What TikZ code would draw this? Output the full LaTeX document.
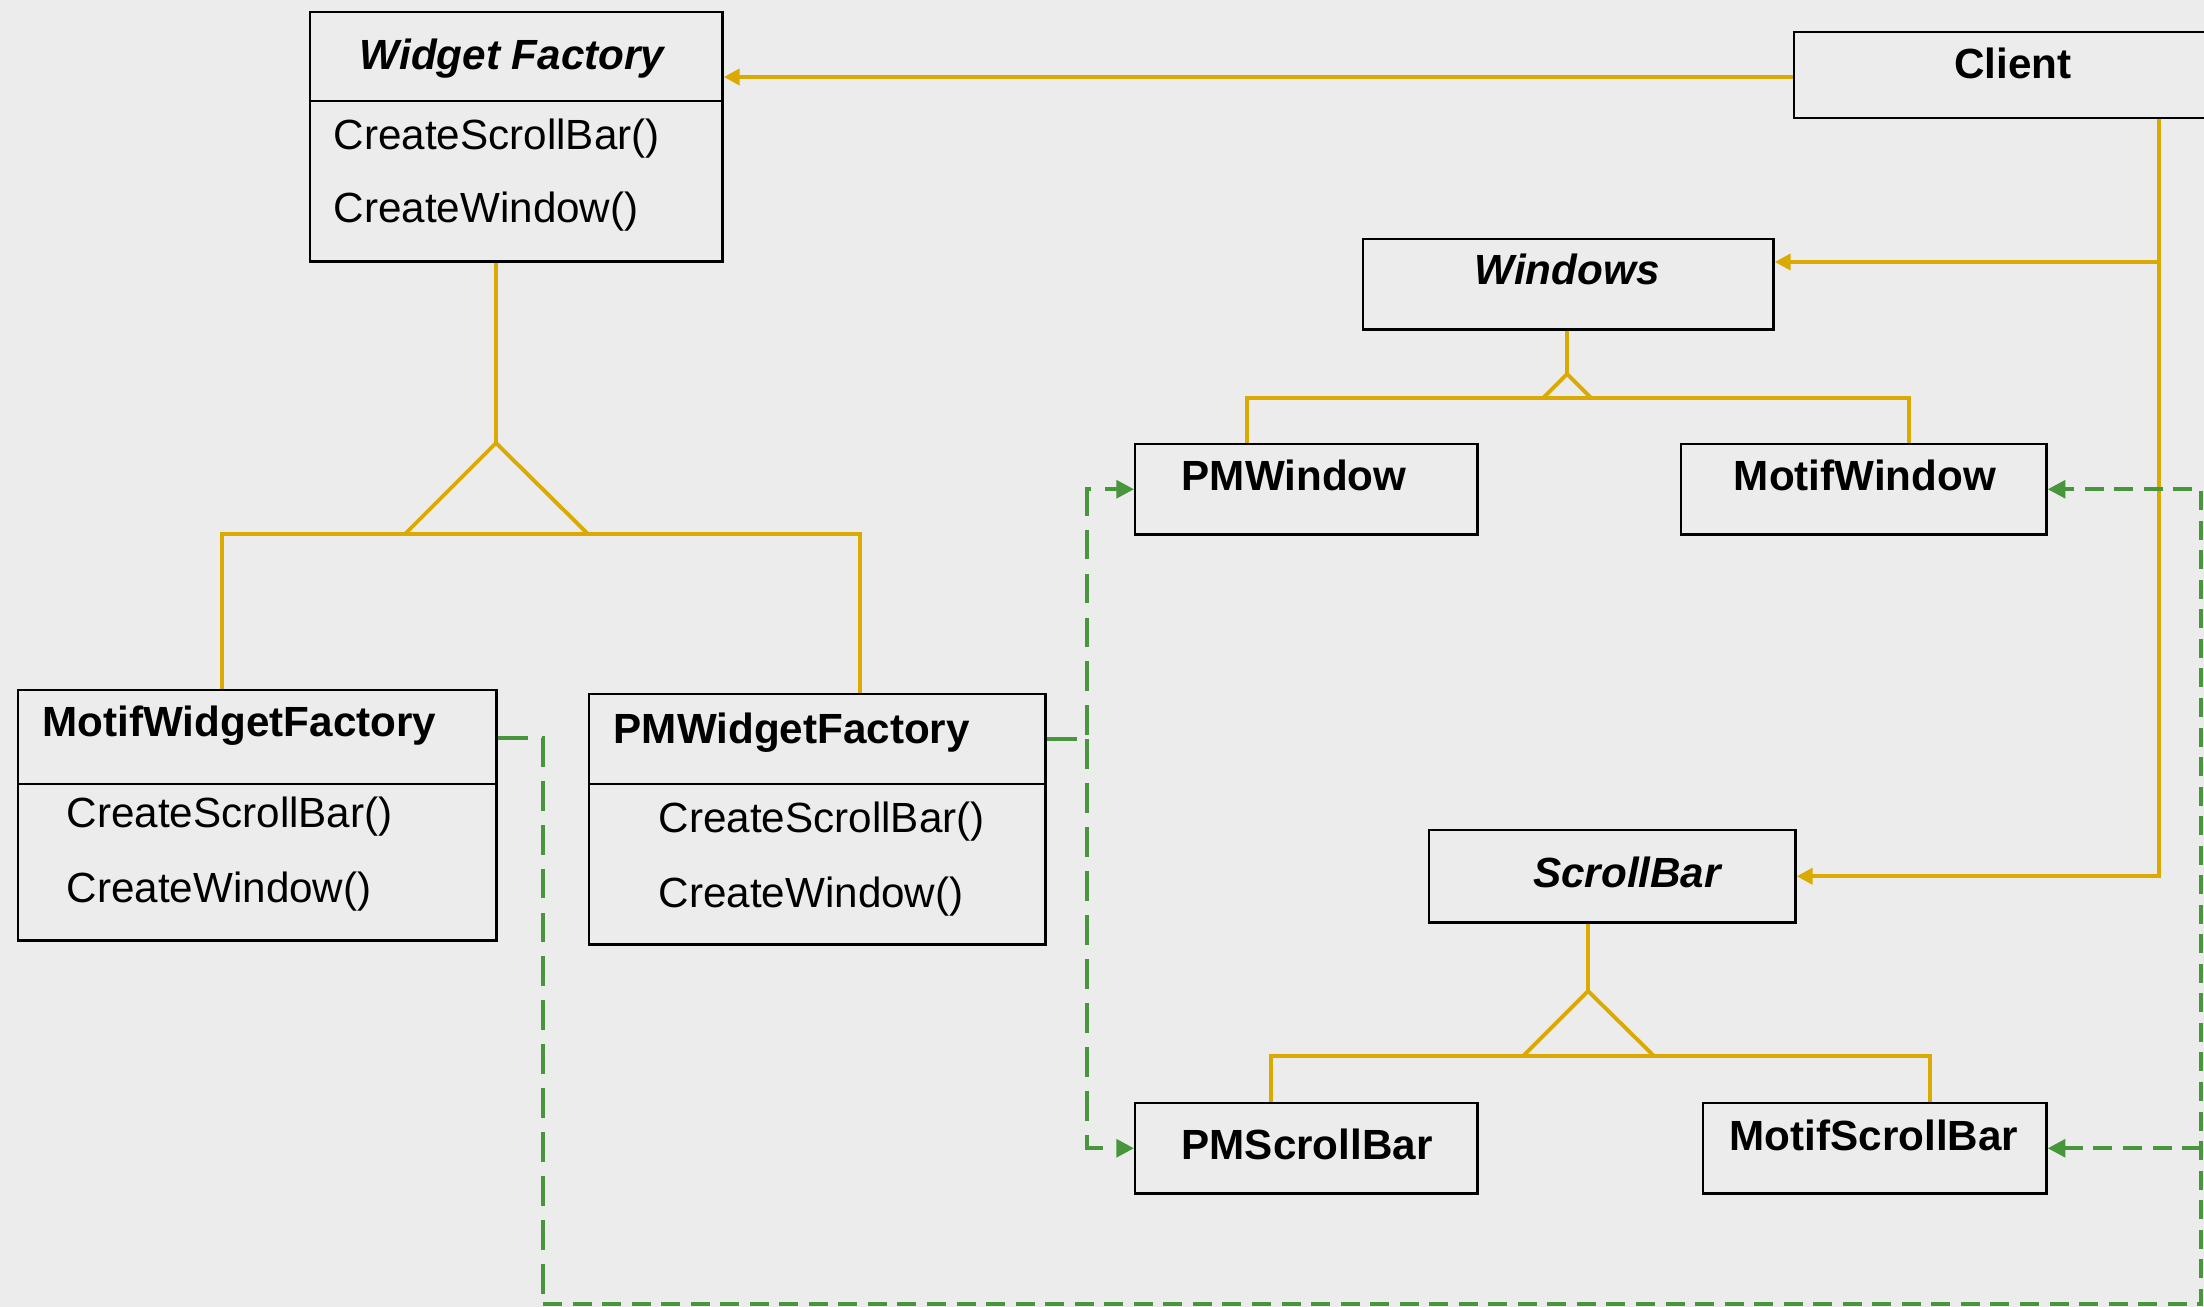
\documentclass[tikz,border=0pt]{standalone}
\usepackage{fontspec}
\setmainfont{Liberation Sans}
\usetikzlibrary{arrows.meta}
\definecolor{paper}{RGB}{236,236,236}
\definecolor{gold}{RGB}{218,170,0}
\definecolor{dgreen}{RGB}{72,150,60}
\begin{document}
\begin{tikzpicture}[x=0.01cm,y=-0.01cm,
  box/.style={draw=black,line width=0.7pt,inner sep=0pt,anchor=north west,fill=none},
  boxl/.style={draw=black,line width=0.7pt},
  gline/.style={draw=gold,line width=1.1pt},
  garrow/.style={gline,-{Triangle[length=4.5pt,width=4.5pt]}},
  gdashlong/.style={draw=dgreen,line width=1.1pt,dash pattern=on 8.5pt off 4pt},
  gdashshort/.style={draw=dgreen,line width=1.1pt,dash pattern=on 5.4pt off 3pt},
  gtip/.style={-{Triangle[length=5pt,width=5pt]}},
  lbl/.style={font=\fontsize{12}{14}\selectfont,inner sep=0pt},
  title/.style={font=\fontsize{12}{14}\selectfont\bfseries,inner sep=0pt},
  ititle/.style={font=\fontsize{12}{14}\selectfont\bfseries\itshape,inner sep=0pt}
]
\clip (0,0) rectangle (2204,1307);
\fill[paper] (0,0) rectangle (2204,1307);

% boxes
\node[box,minimum width=4.12cm,minimum height=2.49cm] (wf) at (309,11) {};
\node[box,minimum width=4.20cm,minimum height=0.86cm] (client) at (1793,31) {};
\node[box,minimum width=4.10cm,minimum height=0.90cm] (win) at (1362,238) {};
\node[box,minimum width=3.42cm,minimum height=0.90cm] (pmw) at (1134,443) {};
\node[box,minimum width=3.65cm,minimum height=0.90cm] (mw) at (1680,443) {};
\node[box,minimum width=3.66cm,minimum height=0.92cm] (sb) at (1428,829) {};
\node[box,minimum width=3.42cm,minimum height=0.90cm] (pmsb) at (1134,1102) {};
\node[box,minimum width=3.43cm,minimum height=0.90cm] (msb) at (1702,1102) {};
\node[box,minimum width=4.78cm,minimum height=2.50cm] (mwf) at (17,689) {};
\node[box,minimum width=4.56cm,minimum height=2.50cm] (pmwf) at (588,693) {};

% dividers
\draw[boxl] (309,101) -- (724,101);
\draw[boxl] (17,784) -- (495,784);
\draw[boxl] (588,784) -- (1044,784);

% texts
\node[ititle,anchor=base] (wft) at (512,70) {Widget Factory};
\node[lbl,anchor=base west] (wfm1) at (333,150) {CreateScrollBar()};
\node[lbl,anchor=base west] (wfm2) at (333,223) {CreateWindow()};
\node[title,anchor=base] (clientt) at (2013,79) {Client};
\node[ititle,anchor=base] (wint) at (1567,285) {Windows};
\node[title,anchor=base] (pmwt) at (1294,491) {PMWindow};
\node[title,anchor=base] (mwt) at (1865,491) {MotifWindow};
\node[ititle,anchor=base] (sbt) at (1627,887) {ScrollBar};
\node[title,anchor=base] (pmsbt) at (1307,1159) {PMScrollBar};
\node[title,anchor=base] (msbt) at (1874,1150) {MotifScrollBar};
\node[title,anchor=base west] (mwft) at (42,737) {MotifWidgetFactory};
\node[lbl,anchor=base west] (mwfm1) at (66,827) {CreateScrollBar()};
\node[lbl,anchor=base west] (mwfm2) at (66,902) {CreateWindow()};
\node[title,anchor=base west] (pmwft) at (613,743) {PMWidgetFactory};
\node[lbl,anchor=base west] (pmwfm1) at (658,832) {CreateScrollBar()};
\node[lbl,anchor=base west] (pmwfm2) at (658,907) {CreateWindow()};

% helper coordinates
\coordinate (cx) at (2159,0);
\coordinate (ywin) at (0,262);
\coordinate (ywf) at (0,77);
\coordinate (gx1) at (1087,0);
\coordinate (ypmwf) at (0,739);
\coordinate (ymwf) at (0,738);
\coordinate (gx2) at (543,0);
\coordinate (ybot) at (0,1304);
\coordinate (gx3) at (2201,0);

% client associations
\draw[garrow] (client.west |- ywf) -- (wf.east |- ywf);
\draw[garrow] (client.south -| cx) |- (sb.east);
\draw[garrow] (cx |- ywin) -- (win.east |- ywin);

% widget factory inheritance
\coordinate (wfa) at (496,443);
\coordinate (wfl) at (222,534);
\coordinate (wfr) at (860,534);
\draw[gline] (wf.south -| wfa) -- (wfa);
\draw[gline,line join=miter] (wfa) -- (405,534) -- (588,534) -- cycle;
\draw[gline] (mwf.north -| wfl) -- (wfl) -- (wfr) -- (pmwf.north -| wfr);

% windows inheritance
\coordinate (wa) at (1567,374);
\coordinate (wl) at (1247,398);
\coordinate (wr) at (1909,398);
\draw[gline] (win.south -| wa) -- (wa);
\draw[gline,line join=miter] (wa) -- (1543,398) -- (1591,398) -- cycle;
\draw[gline] (pmw.north -| wl) -- (wl) -- (wr) -- (mw.north -| wr);

% scrollbar inheritance
\coordinate (sa) at (1588,991);
\coordinate (sl) at (1271,1056);
\coordinate (sr) at (1930,1056);
\draw[gline] (sb.south -| sa) -- (sa);
\draw[gline,line join=miter] (sa) -- (1523,1056) -- (1654,1056) -- cycle;
\draw[gline] (pmsb.north -| sl) -- (sl) -- (sr) -- (msb.north -| sr);

% green creates (PM)
\draw[gdashlong,gtip] (pmwf.east |- ypmwf) -| (gx1 |- pmw.west) -- (pmw.west);
\draw[gdashlong,gtip] (gx1 |- ypmwf) |- (pmsb.west);

% green creates (Motif)
\draw[gdashlong] (mwf.east |- ymwf) -| (gx2 |- ybot);
\draw[gdashshort,gtip] (gx2 |- ybot) -| (gx3 |- mw.east) -- (mw.east);
\draw[gdashshort,gtip] (gx3 |- msb.east) -- (msb.east);
\end{tikzpicture}
\end{document}
